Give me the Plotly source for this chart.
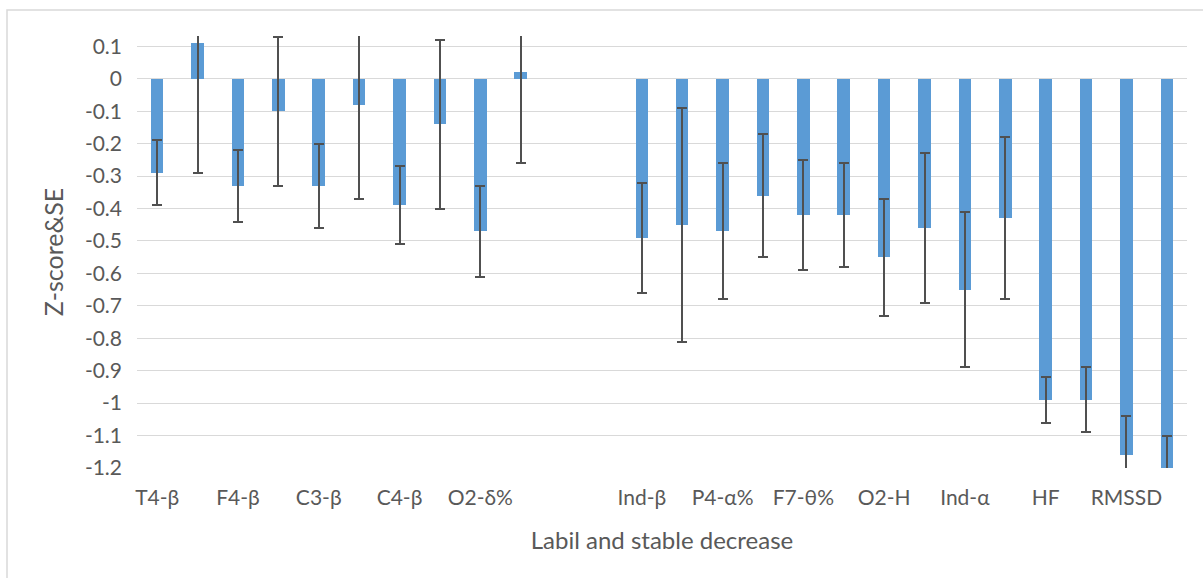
import plotly.graph_objects as go

# Category labels (only every other label is shown in the reference; hidden ones are blank)
labels = ["T4-β", "", "F4-β", "", "C3-β", "", "C4-β", "", "O2-δ%", "",
          "", "",
          "Ind-β", "", "P4-α%", "", "F7-θ%", "", "O2-H", "", "Ind-α", "", "HF", "", "RMSSD", ""]

# Z-scores (None = empty gap category)
z_scores = [-0.29, 0.11, -0.33, -0.10, -0.33, -0.08, -0.39, -0.14, -0.47, 0.02,
            None, None,
            -0.49, -0.45, -0.47, -0.36, -0.42, -0.42, -0.55, -0.46, -0.65, -0.43, -0.99, -0.99, -1.16, -1.20]

# Standard errors
std_err = [0.10, 0.40, 0.11, 0.23, 0.13, 0.29, 0.12, 0.26, 0.14, 0.28,
           None, None,
           0.17, 0.36, 0.21, 0.19, 0.17, 0.16, 0.18, 0.23, 0.24, 0.25, 0.07, 0.10, 0.12, 0.10]

y_tick_vals = [0.1, 0, -0.1, -0.2, -0.3, -0.4, -0.5, -0.6, -0.7, -0.8, -0.9, -1.0, -1.1, -1.2]
y_tick_text = ["0.1", "0", "-0.1", "-0.2", "-0.3", "-0.4", "-0.5", "-0.6", "-0.7", "-0.8", "-0.9", "-1", "-1.1", "-1.2"]

x_title = "Labil and stable decrease"
y_title = "Z-score&SE"

x_pos = list(range(len(labels)))
tick_vals = [i for i, t in enumerate(labels) if t]
tick_text = [t for t in labels if t]

FONT = "Lato, 'Open Sans', sans-serif"
GRAY = "#595959"

fig = go.Figure()
fig.add_trace(go.Bar(
    x=x_pos, y=z_scores,
    width=0.31,
    marker=dict(color="#5B9BD5", line=dict(width=0)),
    error_y=dict(type="data", array=std_err, visible=True,
                 color="#505050", thickness=2, width=5),
    showlegend=False,
))

fig.update_layout(
    width=1203, height=578,
    paper_bgcolor="white", plot_bgcolor="white",
    margin=dict(l=137, r=16, t=36, b=110, autoexpand=False),
    font=dict(family=FONT, color=GRAY, size=21),
    bargap=0,
    xaxis=dict(
        range=[-0.5, len(labels) - 0.5],
        tickmode="array", tickvals=tick_vals, ticktext=tick_text,
        showgrid=False, zeroline=False, showline=False, ticks="",
        tickfont=dict(size=21, color=GRAY, family=FONT),
        ticklabelstandoff=15,
        title=dict(text=x_title, font=dict(size=24, color=GRAY, family=FONT), standoff=24),
        automargin=False,
    ),
    yaxis=dict(
        range=[-1.2, 0.132],
        tickmode="array", tickvals=y_tick_vals, ticktext=y_tick_text,
        showgrid=True, gridcolor="#D9D9D9", gridwidth=1.3,
        zeroline=False, showline=False, ticks="",
        tickfont=dict(size=21, color=GRAY, family=FONT),
        ticklabelstandoff=14,
        title=dict(text=y_title, font=dict(size=25, color=GRAY, family=FONT), standoff=14),
        automargin=False,
    ),
    shapes=[dict(type="rect", xref="paper", yref="paper",
                 x0=(7 - 137) / 1050, x1=(1280 - 137) / 1050,
                 y0=(468 - 620) / 432, y1=(468 - 10) / 432,
                 line=dict(color="#D9D9D9", width=1.5), fillcolor="rgba(0,0,0,0)", layer="below")],
)

fig.write_html("out.html", config={"displayModeBar": False},
               post_script="document.body.style.margin='0';document.body.style.overflow='hidden';")
